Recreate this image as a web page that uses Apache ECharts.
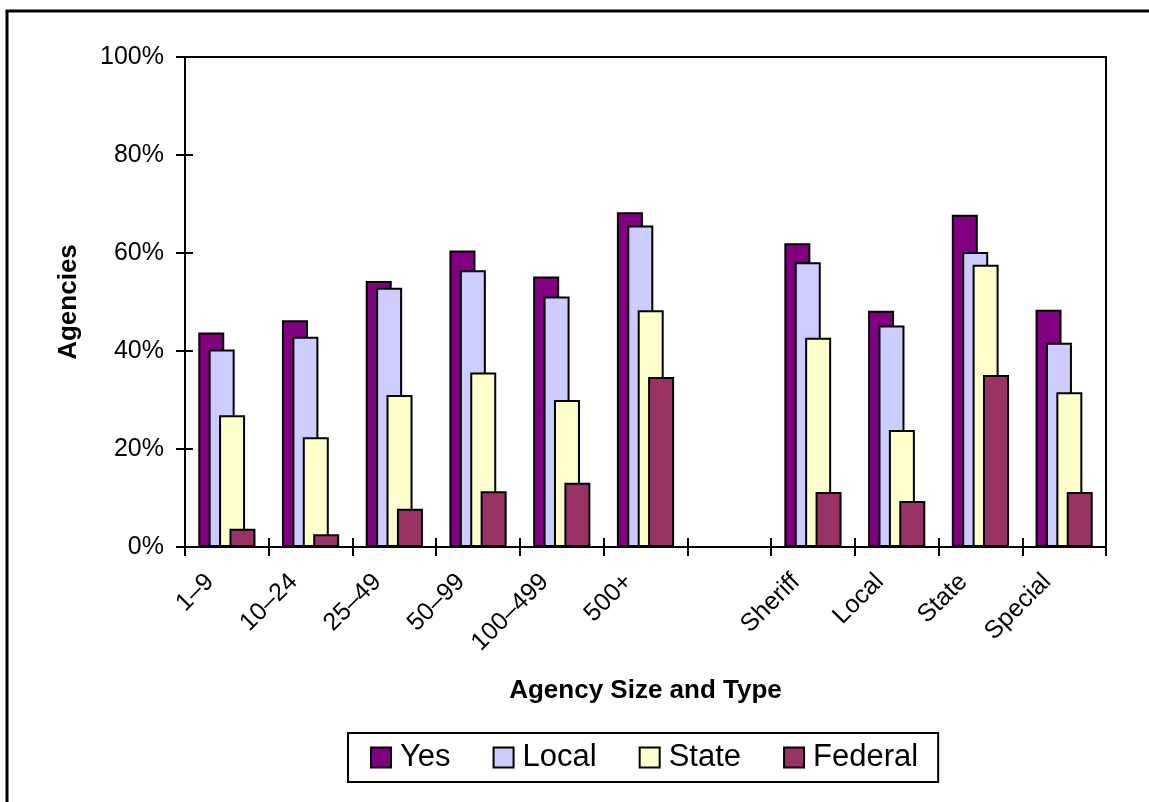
<!DOCTYPE html>
<html>
<head>
<meta charset="utf-8">
<script src="https://cdn.jsdelivr.net/npm/echarts@6/dist/echarts.min.js"></script>
<style>
html,body{margin:0;padding:0;background:#fff;}
#chart{width:1149px;height:802px;}
</style>
</head>
<body>
<div id="chart"></div>
<script>
const categories = ['1–9', '10–24', '25–49', '50–99', '100–499', '500+', '', 'Sheriff', 'Local', 'State', 'Special'];
const seriesNames = ['Yes', 'Local', 'State', 'Federal'];
const yesValues     = [43.8, 46.3, 54.3, 60.5, 55.2, 68.3, null, 62.0, 48.2, 67.8, 48.4];
const localValues   = [40.3, 42.9, 52.9, 56.5, 51.1, 65.6, null, 58.1, 45.2, 60.2, 41.7];
const stateValues   = [26.9, 22.4, 31.0, 35.6, 30.0, 48.3, null, 42.7, 23.9, 57.6, 31.6];
const federalValues = [3.7, 2.6, 7.8, 11.4, 13.1, 34.7, null, 11.2, 9.4, 35.1, 11.2];
const yTicks = [0, 20, 40, 60, 80, 100];

const colors = ['#800080', '#CCCCFF', '#FFFFCC', '#993366'];
const FONT = "'Liberation Sans', Arial, sans-serif";

const chart = echarts.init(document.getElementById('chart'), null, {renderer: 'canvas'});
const allValues = [yesValues, localValues, stateValues, federalValues];

const option = {
  animation: false,
  backgroundColor: '#ffffff',
  textStyle: {fontFamily: FONT},
  graphic: [{
    type: 'rect',
    shape: {x: 7, y: 11, width: 1170, height: 820},
    style: {fill: 'none', stroke: '#000', lineWidth: 3},
    silent: true
  }],
  grid: {
    left: 185, right: 43, top: 57, bottom: 255,
    show: true, borderColor: '#000', borderWidth: 2, backgroundColor: 'transparent'
  },
  legend: {
    data: seriesNames,
    left: 348, top: 733,
    padding: [9, 20, 9, 22],
    itemWidth: 20, itemHeight: 20, itemGap: 42,
    borderColor: '#000', borderWidth: 2,
    icon: 'rect',
    textStyle: {fontSize: 31, color: '#000', fontFamily: FONT, padding: [0, 0, 0, 4]}
  },
  xAxis: [{
    type: 'category',
    data: categories,
    position: 'bottom',
    name: 'Agency Size and Type',
    nameLocation: 'middle',
    nameGap: 131,
    nameTextStyle: {fontSize: 26, fontWeight: 'bold', color: '#000', fontFamily: FONT},
    axisLine: {lineStyle: {color: '#000', width: 2}},
    axisTick: {show: true, length: 9, lineStyle: {color: '#000', width: 2}},
    axisLabel: {
      rotate: 45, interval: 0, margin: 14, fontSize: 25, color: '#000', fontFamily: FONT,
      padding: [0, 24, 0, 0]
    }
  }, {
    type: 'category',
    data: categories,
    position: 'bottom',
    axisLine: {show: false},
    axisTick: {show: true, inside: true, length: 9, lineStyle: {color: '#000', width: 2}},
    axisLabel: {show: false}
  }],
  yAxis: [{
    type: 'value',
    min: 0, max: 100, interval: 20,
    name: 'Agencies',
    nameLocation: 'middle',
    nameGap: 103,
    nameTextStyle: {fontSize: 26, fontWeight: 'bold', color: '#000', fontFamily: FONT},
    axisLine: {show: true, lineStyle: {color: '#000', width: 2}},
    axisTick: {show: true, length: 9, lineStyle: {color: '#000', width: 2}},
    splitLine: {show: false},
    axisLabel: {
      margin: 21, fontSize: 25, color: '#000', fontFamily: FONT,
      customValues: yTicks,
      formatter: v => v + '%'
    }
  }, {
    type: 'value',
    min: 0, max: 100, interval: 20,
    position: 'left',
    axisLine: {show: false},
    axisTick: {show: true, inside: true, length: 8, lineStyle: {color: '#000', width: 2}},
    splitLine: {show: false},
    axisLabel: {show: false}
  }],
  series: seriesNames.map((name, i) => ({
    name: name,
    type: 'bar',
    xAxisIndex: 0,
    yAxisIndex: 0,
    data: allValues[i],
    barWidth: 26,
    barGap: '-60%',
    itemStyle: {color: colors[i], borderColor: '#000', borderWidth: 2}
  }))
};
chart.setOption(option);
</script>
</body>
</html>
